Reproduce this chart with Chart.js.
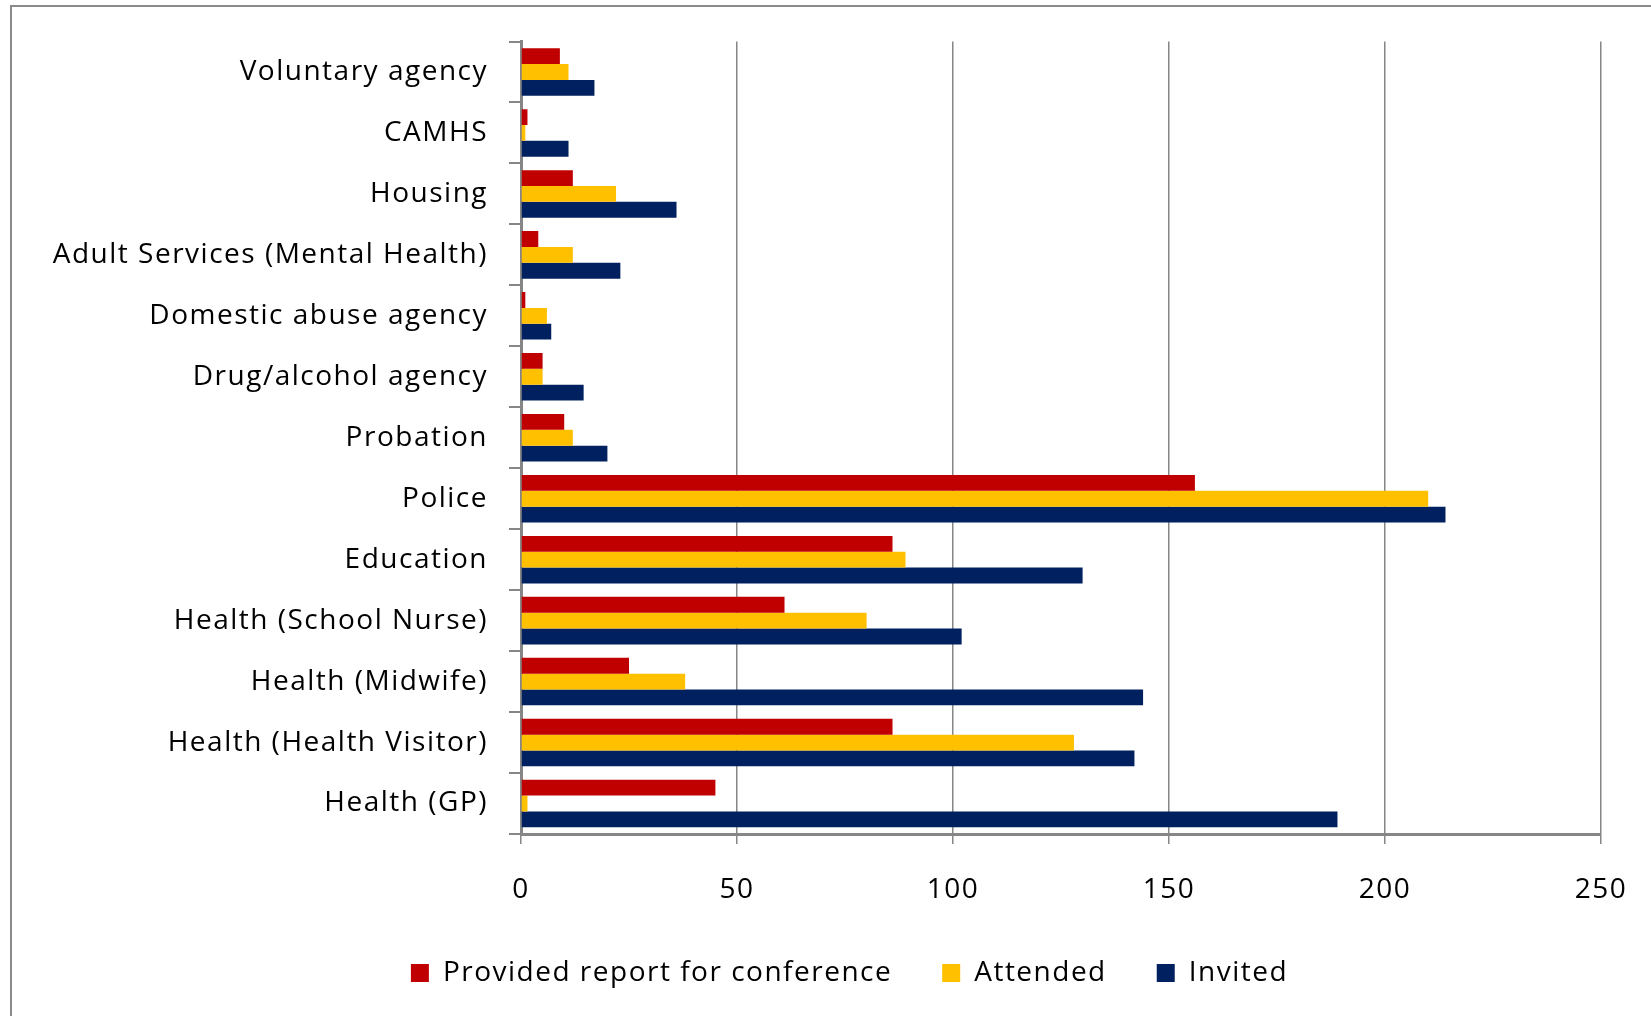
<!DOCTYPE html>
<html>
<head>
<meta charset="utf-8">
<script src="https://cdn.jsdelivr.net/npm/chart.js@4"></script>
<style>
  html, body { margin: 0; padding: 0; background: #fff; overflow: hidden; }
  #frame {
    position: absolute; left: 10px; top: 5px;
    width: 1700px; height: 1100px;
    border: 2px solid #8a8a8a;
  }
  #wrap { position: absolute; left: 0; top: 0; width: 1651px; height: 1016px; }
</style>
</head>
<body>
<div id="frame"></div>
<div id="wrap"><canvas id="agencyChart" width="1651" height="1016"></canvas></div>
<script>
// Agencies, top to bottom
const agencies = [
  "Voluntary agency",
  "CAMHS",
  "Housing",
  "Adult Services (Mental Health)",
  "Domestic abuse agency",
  "Drug/alcohol agency",
  "Probation",
  "Police",
  "Education",
  "Health (School Nurse)",
  "Health (Midwife)",
  "Health (Health Visitor)",
  "Health (GP)"
];

const providedReport = [9, 1.5, 12, 4, 1, 5, 10, 156, 86, 61, 25, 86, 45];
const attended = [11, 1, 22, 12, 6, 5, 12, 210, 89, 80, 38, 128, 1.5];
const invited = [17, 11, 36, 23, 7, 14.5, 20, 214, 130, 102, 144, 142, 189];

const xTicks = [0, 50, 100, 150, 200, 250];

const gridGray = "#868686";
const labelFont = { family: "Open Sans", size: 28 };

// wider tracking for all text, and nudge the legend row sideways
const legendShift = 49;
const textTweaks = {
  id: "textTweaks",
  beforeUpdate(chart) { chart.ctx.letterSpacing = "1.5px"; },
  beforeDraw(chart) { chart.ctx.letterSpacing = "1.5px"; },
  afterLayout(chart) {
    chart.legend.left += legendShift;
    chart.legend.right += legendShift;
  }
};

const ctx = document.getElementById("agencyChart");

new Chart(ctx, {
  type: "bar",
  data: {
    labels: agencies,
    datasets: [
      { label: "Provided report for conference", data: providedReport, backgroundColor: "#C00000" },
      { label: "Attended", data: attended, backgroundColor: "#FFC000" },
      { label: "Invited", data: invited, backgroundColor: "#002060" }
    ]
  },
  options: {
    indexAxis: "y",
    responsive: false,
    animation: false,
    categoryPercentage: 0.78,
    barPercentage: 1.0,
    layout: {
      padding: { left: 0, right: 50, top: 41.5, bottom: 19 }
    },
    scales: {
      x: {
        min: xTicks[0],
        max: xTicks[xTicks.length - 1],
        afterBuildTicks: scale => {
          scale.ticks = xTicks.map(v => ({ value: v }));
        },
        afterFit: scale => {
          scale.height = 75;
          scale.paddingLeft = 0;
          scale.paddingRight = 0;
        },
        grid: {
          color: gridGray,
          lineWidth: 1.5,
          tickLength: 10,
          tickColor: gridGray
        },
        border: { color: gridGray, width: 3 },
        ticks: {
          color: "#000",
          font: labelFont,
          padding: 29
        }
      },
      y: {
        afterFit: scale => { scale.width = 521; },
        grid: {
          drawOnChartArea: false,
          tickLength: 12,
          color: gridGray,
          lineWidth: 2
        },
        border: { color: gridGray, width: 3 },
        ticks: {
          color: "#000",
          font: labelFont,
          padding: 21
        }
      }
    },
    plugins: {
      legend: {
        position: "bottom",
        labels: {
          color: "#000",
          font: labelFont,
          boxWidth: 18,
          boxHeight: 18,
          padding: 50
        }
      },
      tooltip: { enabled: false }
    }
  },
  plugins: [textTweaks]
});
</script>
</body>
</html>
